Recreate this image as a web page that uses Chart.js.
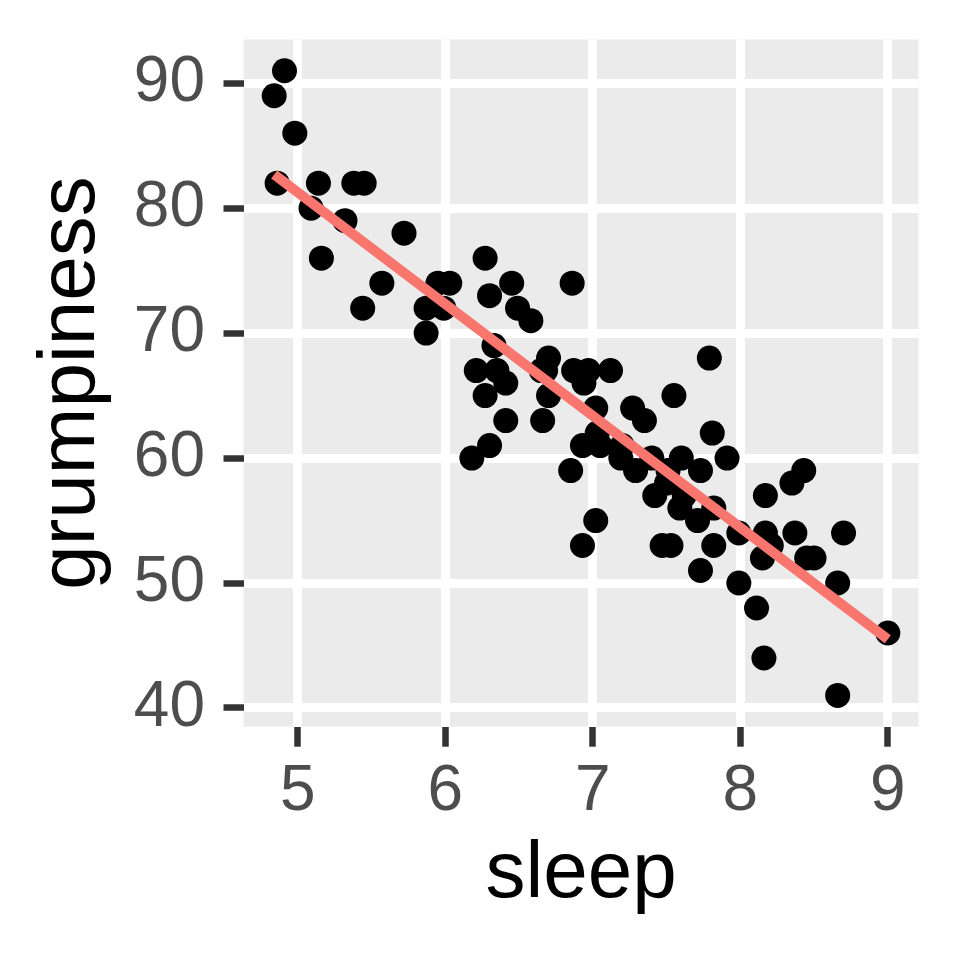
<!DOCTYPE html>
<html><head><meta charset="utf-8">
<script src="https://cdn.jsdelivr.net/npm/chart.js@4.4.1/dist/chart.umd.min.js"></script>
<style>html,body{margin:0;padding:0;background:#fff;} #wrap{width:960px;height:960px;}</style>
</head><body><div id="wrap"><canvas id="c" width="960" height="960"></canvas></div>
<script>
// ---- data ----
const sleep = [
  4.91, 4.84, 4.98, 4.86, 5.14, 5.38, 5.45, 5.09, 5.32, 5.72,
  5.16, 5.57, 5.44, 5.95, 6.03, 5.87, 5.99, 5.87,
  6.27, 6.45, 6.30, 6.86, 6.49, 6.58, 6.33, 6.70, 6.21, 6.35,
  6.41, 6.27, 6.65, 6.68, 6.70, 6.41, 6.66, 6.30, 6.18, 6.85,
  6.87, 6.97, 7.12, 6.94, 7.02, 7.27, 7.35, 7.55, 7.79, 7.81,
  7.91, 6.93, 7.03, 7.20, 7.19, 7.29, 7.40, 7.60, 7.73, 7.51,
  7.42, 7.50, 7.59, 7.62, 7.71, 7.82, 7.02, 6.93, 7.47, 7.53,
  7.82, 7.73, 7.05,
  7.99, 8.11, 8.16, 8.66, 9.00, 8.66, 8.70, 8.45, 8.50, 8.17,
  8.15, 8.37, 8.21, 7.99, 8.17, 8.35, 8.43
];
const grumpiness = [
  91, 89, 86, 82, 82, 82, 82, 80, 79, 78,
  76, 74, 72, 74, 74, 72, 72, 70,
  76, 74, 73, 74, 72, 71, 69, 68, 67, 67,
  66, 65, 67, 67, 65, 63, 63, 61, 60, 59,
  67, 67, 67, 66, 64, 64, 63, 65, 68, 62,
  60, 61, 62, 61, 60, 59, 60, 60, 59, 59,
  57, 58, 56, 57, 55, 56, 55, 53, 53, 53,
  53, 51, 61,
  50, 48, 44, 41, 46, 50, 54, 52, 52, 54,
  52, 54, 53, 54, 57, 58, 59
];
// fitted line endpoints
const fitSleep = [4.84, 9.00];
const fitGrump = [82.7, 45.5];
const xTicks = [5, 6, 7, 8, 9];
const yTicks = [40, 50, 60, 70, 80, 90];
const xLimits = [4.632, 9.208];
const yLimits = [38.5, 93.5];
const xTitle = 'sleep';
const yTitle = 'grumpiness';

// ---- chart ----
const FAMILY = '"Liberation Sans", Arial, Helvetica, sans-serif';
const points = sleep.map((s, i) => ({x: s, y: grumpiness[i]}));
const fit = fitSleep.map((s, i) => ({x: s, y: fitGrump[i]}));

const panelBg = {
  id: 'panelBg',
  beforeDraw(chart) {
    const {ctx, chartArea: a} = chart;
    ctx.save();
    ctx.fillStyle = '#EBEBEB';
    ctx.fillRect(a.left, a.top, a.right - a.left, a.bottom - a.top);
    ctx.restore();
  }
};

new Chart(document.getElementById('c'), {
  type: 'scatter',
  data: {
    datasets: [
      {
        type: 'line', data: fit, order: 0, showLine: true,
        borderColor: '#F8766D', backgroundColor: '#F8766D',
        borderWidth: 10, borderCapStyle: 'butt',
        pointRadius: 0, fill: false, tension: 0
      },
      {
        type: 'scatter', data: points, order: 1,
        backgroundColor: '#000000', borderWidth: 0,
        pointRadius: 12.5, pointHoverRadius: 12.5
      }
    ]
  },
  options: {
    responsive: false,
    devicePixelRatio: 1,
    animation: false,
    events: [],
    layout: {padding: {top: 39.5, right: 41.5, bottom: 0, left: 0}},
    plugins: {legend: {display: false}, tooltip: {enabled: false}},
    scales: {
      x: {
        type: 'linear', min: xLimits[0], max: xLimits[1],
        afterBuildTicks: s => { s.ticks = xTicks.map(v => ({value: v})); },
        afterFit: s => { s.height = 233.3; s.paddingLeft = 0; s.paddingRight = 0; },
        border: {display: false},
        grid: {color: '#FFFFFF', lineWidth: 9, drawTicks: true, tickLength: 20,
               tickColor: '#333333', tickWidth: 6.5},
        ticks: {color: '#4D4D4D', font: {family: FAMILY, size: 64}, padding: 7,
                maxRotation: 0, autoSkip: false},
        title: {display: true, text: xTitle, color: '#000000',
                font: {family: FAMILY, size: 80}, padding: {top: 0, bottom: 36.7}}
      },
      y: {
        type: 'linear', min: yLimits[0], max: yLimits[1],
        afterBuildTicks: s => { s.ticks = yTicks.map(v => ({value: v})); },
        afterFit: s => { s.width = 243.5; s.paddingTop = 0; s.paddingBottom = 0; },
        border: {display: false},
        grid: {color: '#FFFFFF', lineWidth: 9, drawTicks: true, tickLength: 20,
               tickColor: '#333333', tickWidth: 6.5},
        ticks: {color: '#4D4D4D', font: {family: FAMILY, size: 64}, padding: 18.5,
                autoSkip: false},
        title: {display: true, text: yTitle, color: '#000000',
                font: {family: FAMILY, size: 80}, padding: {top: 24.3, bottom: 0}}
      }
    }
  },
  plugins: [panelBg]
});
</script>
</body></html>
